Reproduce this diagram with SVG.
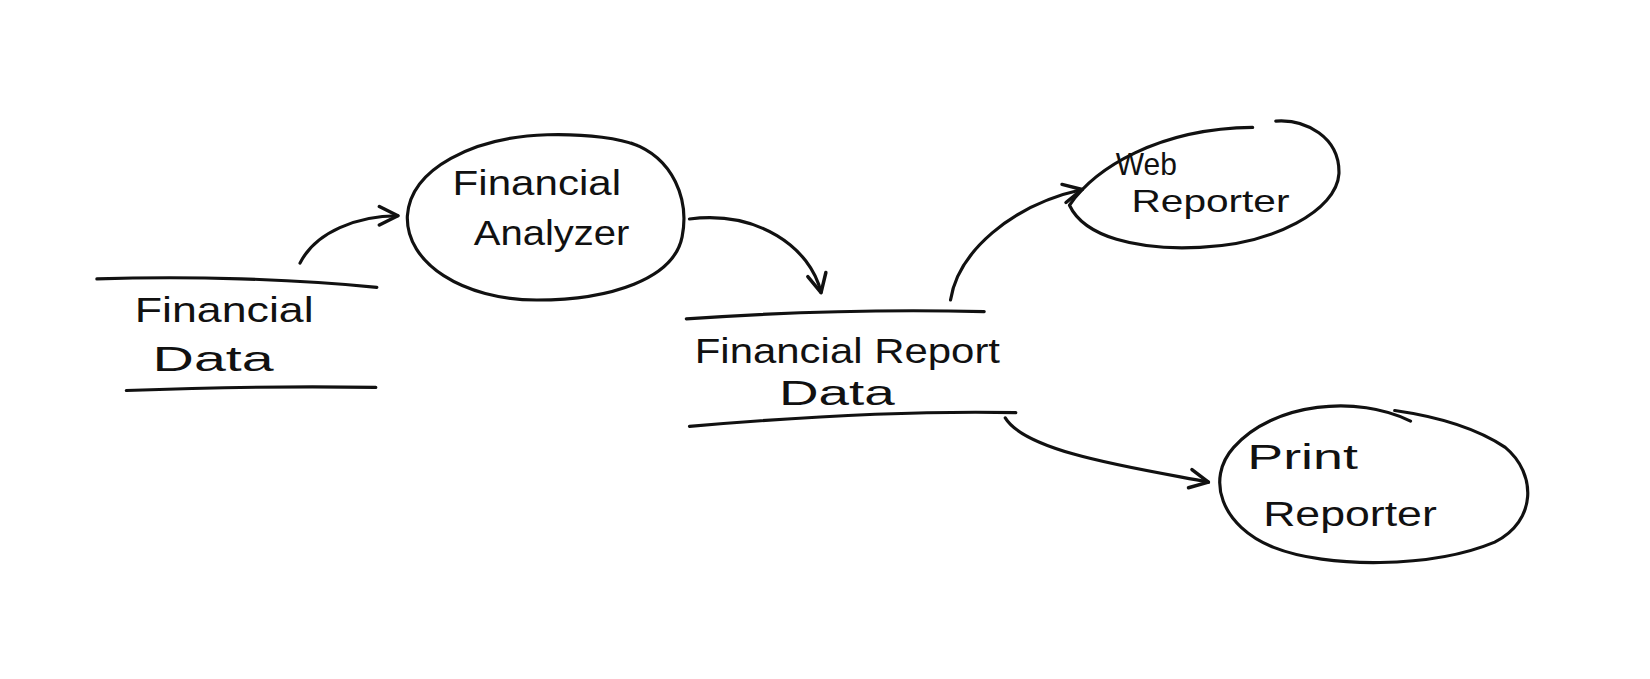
<svg xmlns="http://www.w3.org/2000/svg" width="1650" height="679" viewBox="0 0 1650 679">
<defs>
<marker id="arr" viewBox="0 0 20 20" refX="18" refY="10" markerWidth="22" markerHeight="22" markerUnits="userSpaceOnUse" orient="auto">
<path d="M2,2 L18,10 L2,18" fill="none" stroke="#111" stroke-width="3" stroke-linecap="round" stroke-linejoin="round"/>
</marker>
<style>
.s{fill:none;stroke:#111;stroke-width:3;stroke-linecap:round;stroke-linejoin:round}
.t{font-family:"Liberation Sans",Arial,sans-serif;font-size:34px;fill:#111}
.w{font-size:30px}
</style>
</defs>
<rect width="1650" height="679" fill="#fff"/>
<g transform="scale(1.05263)">
<g id="financial-data">
<path class="s" d="M92,265 C180,262 280,265 358,273"/>
<path class="s" d="M120,371 C200,368 290,367 357,368"/>
<text class="t" x="128" y="306" textLength="170" lengthAdjust="spacingAndGlyphs">Financial</text>
<text class="t" x="145" y="352" textLength="115" lengthAdjust="spacingAndGlyphs">Data</text>
</g>
<g id="financial-analyzer">
<path class="s" d="M600,136 C640,150 655,190 648,225 C640,265 580,285 510,285 C440,285 385,250 387,205 C390,160 450,130 520,128 C560,127 590,132 605,138"/>
<text class="t" x="430" y="185" textLength="160" lengthAdjust="spacingAndGlyphs">Financial</text>
<text class="t" x="450" y="233" textLength="148" lengthAdjust="spacingAndGlyphs">Analyzer</text>
</g>
<g id="financial-report-data">
<path class="s" d="M652,303 C750,296 850,294 935,296"/>
<path class="s" d="M655,405 C760,396 870,390 965,392"/>
<text class="t" x="660" y="345" textLength="290" lengthAdjust="spacingAndGlyphs">Financial Report</text>
<text class="t" x="740" y="385" textLength="110" lengthAdjust="spacingAndGlyphs">Data</text>
</g>
<g id="web-reporter">
<path class="s" d="M1190,121 C1100,122 1040,160 1016,195 C1030,225 1080,238 1140,235 C1210,232 1270,200 1272,165 C1273,130 1240,113 1212,115"/>
<text class="t w" x="1060" y="166" textLength="58" lengthAdjust="spacingAndGlyphs">Web</text>
<text class="t w" x="1075" y="201" textLength="150" lengthAdjust="spacingAndGlyphs">Reporter</text>
</g>
<g id="print-reporter">
<path class="s" d="M1340,400 C1290,375 1210,382 1172,425 C1145,455 1160,500 1210,520 C1260,540 1360,540 1420,515 C1460,495 1460,450 1430,425 C1400,405 1360,395 1325,390"/>
<text class="t" x="1185" y="446" textLength="105" lengthAdjust="spacingAndGlyphs">Print</text>
<text class="t" x="1200" y="500" textLength="165" lengthAdjust="spacingAndGlyphs">Reporter</text>
</g>
<g id="connectors">
<path class="s" marker-end="url(#arr)" d="M285,250 C300,220 340,205 378,205"/>
<path class="s" marker-end="url(#arr)" d="M655,208 C720,200 770,235 780,278"/>
<path class="s" marker-end="url(#arr)" d="M903,285 C910,240 960,195 1028,180"/>
<path class="s" marker-end="url(#arr)" d="M955,397 C975,430 1080,445 1148,458"/>
</g>
</g>
</svg>
